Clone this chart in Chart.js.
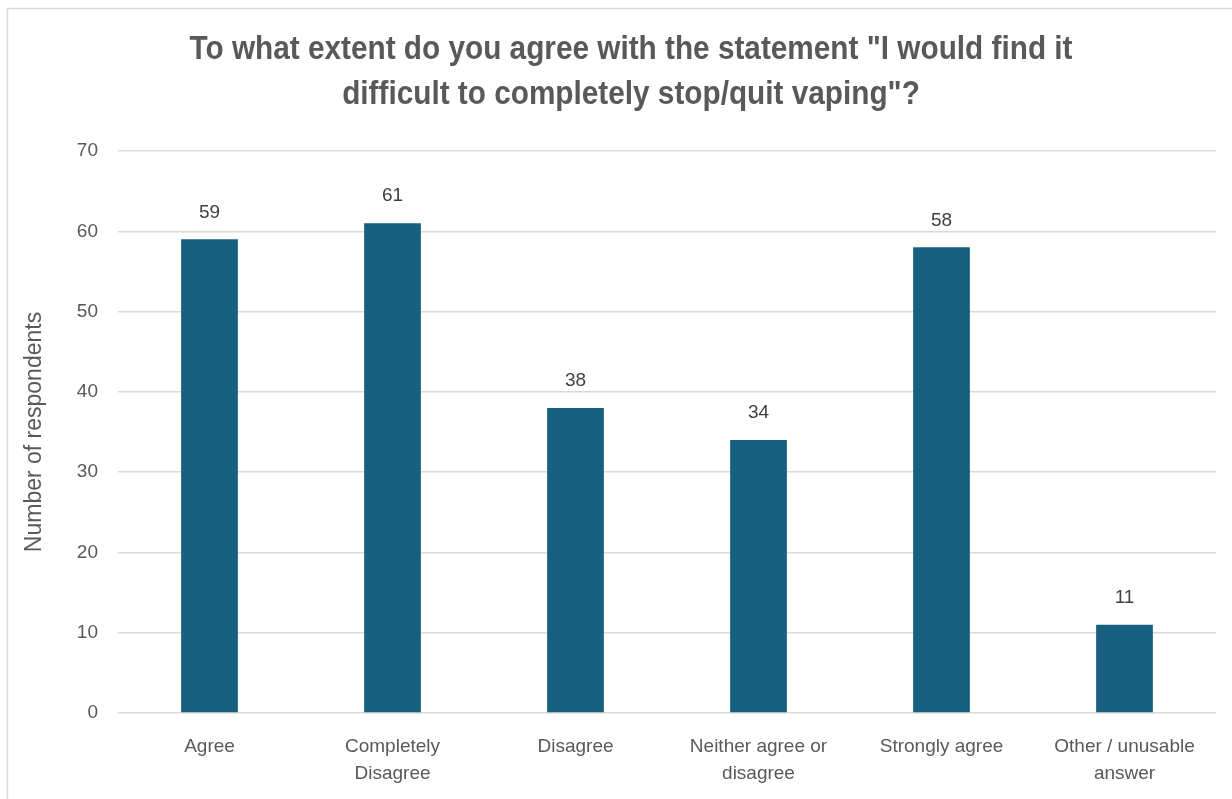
<!DOCTYPE html>
<html>
<head>
<meta charset="utf-8">
<script src="https://cdn.jsdelivr.net/npm/chart.js@4.4.1/dist/chart.umd.min.js"></script>
<style>
  html, body { margin: 0; padding: 0; background: #ffffff; }
  #wrap { position: relative; width: 1232px; height: 799px; }
</style>
</head>
<body>
<div id="wrap"><canvas id="c" width="1232" height="799"></canvas></div>
<script>
// Survey responses
const categories = [
  'Agree',
  ['Completely', 'Disagree'],
  'Disagree',
  ['Neither agree or', 'disagree'],
  'Strongly agree',
  ['Other / unusable', 'answer']
];
const respondents = [59, 61, 38, 34, 58, 11];
const yTicks = [0, 10, 20, 30, 40, 50, 60, 70];

const titleLines = [
  'To what extent do you agree with the statement "I would find it',
  'difficult to completely stop/quit vaping"?'
];
const yAxisTitle = 'Number of respondents';

const BAR = '#17607f';
const TEXT = '#595959';
const GRID = '#d9d9d9';
const SANS = '"Liberation Sans", Arial, sans-serif';

// White background and thin outer frame
const framePlugin = {
  id: 'frame',
  beforeDraw(chart) {
    const ctx = chart.ctx;
    ctx.save();
    ctx.fillStyle = '#ffffff';
    ctx.fillRect(0, 0, chart.width, chart.height);
    ctx.strokeStyle = '#d9d9d9';
    ctx.lineWidth = 1.5;
    ctx.strokeRect(7.5, 8.5, chart.width + 20, chart.height + 20);
    ctx.restore();
  }
};

// Condensed bold two-line heading
const headingPlugin = {
  id: 'heading',
  afterDraw(chart) {
    const ctx = chart.ctx;
    const cx = 631;
    const lineY = [50, 95];
    const fullWidth = 883;
    ctx.save();
    ctx.font = 'bold 34px ' + SANS;
    ctx.fillStyle = TEXT;
    ctx.textAlign = 'center';
    ctx.textBaseline = 'middle';
    const squeeze = fullWidth / ctx.measureText(titleLines[0]).width;
    titleLines.forEach((line, i) => {
      ctx.save();
      ctx.translate(cx, lineY[i]);
      ctx.scale(squeeze, 1);
      ctx.fillText(line, 0, 0);
      ctx.restore();
    });
    ctx.restore();
  }
};

// Value labels above each bar
const valueLabels = {
  id: 'valueLabels',
  afterDatasetsDraw(chart) {
    const ctx = chart.ctx;
    const meta = chart.getDatasetMeta(0);
    ctx.save();
    ctx.font = '19px ' + SANS;
    ctx.fillStyle = '#404040';
    ctx.textAlign = 'center';
    ctx.textBaseline = 'middle';
    meta.data.forEach((bar, i) => {
      ctx.fillText(String(respondents[i]), bar.x, bar.y - 27);
    });
    ctx.restore();
  }
};

new Chart(document.getElementById('c'), {
  type: 'bar',
  data: {
    labels: categories,
    datasets: [{
      data: respondents,
      backgroundColor: BAR,
      borderWidth: 0,
      categoryPercentage: 1,
      barPercentage: 0.31
    }]
  },
  options: {
    responsive: false,
    animation: false,
    layout: { padding: { top: 151, right: 16, bottom: 0, left: 0 } },
    plugins: {
      legend: { display: false },
      tooltip: { enabled: false },
      title: { display: false }
    },
    scales: {
      x: {
        grid: { display: false, drawTicks: false },
        border: { display: false },
        ticks: {
          color: TEXT,
          font: { family: SANS, size: 19, lineHeight: 1.42 },
          padding: 20,
          maxRotation: 0,
          autoSkip: false
        },
        afterFit(scale) { scale.height = 86; }
      },
      y: {
        min: 0,
        max: 70,
        afterBuildTicks(scale) { scale.ticks = yTicks.map(v => ({ value: v })); },
        grid: { color: GRID, lineWidth: 1.5, drawTicks: false },
        border: { display: false },
        ticks: {
          color: TEXT,
          font: { family: SANS, size: 19 },
          padding: 20
        },
        title: {
          display: true,
          text: yAxisTitle,
          color: TEXT,
          font: { family: SANS, size: 23 },
          padding: { top: 21, bottom: 0 }
        },
        afterFit(scale) { scale.width = 118; }
      }
    }
  },
  plugins: [framePlugin, headingPlugin, valueLabels]
});
</script>
</body>
</html>
